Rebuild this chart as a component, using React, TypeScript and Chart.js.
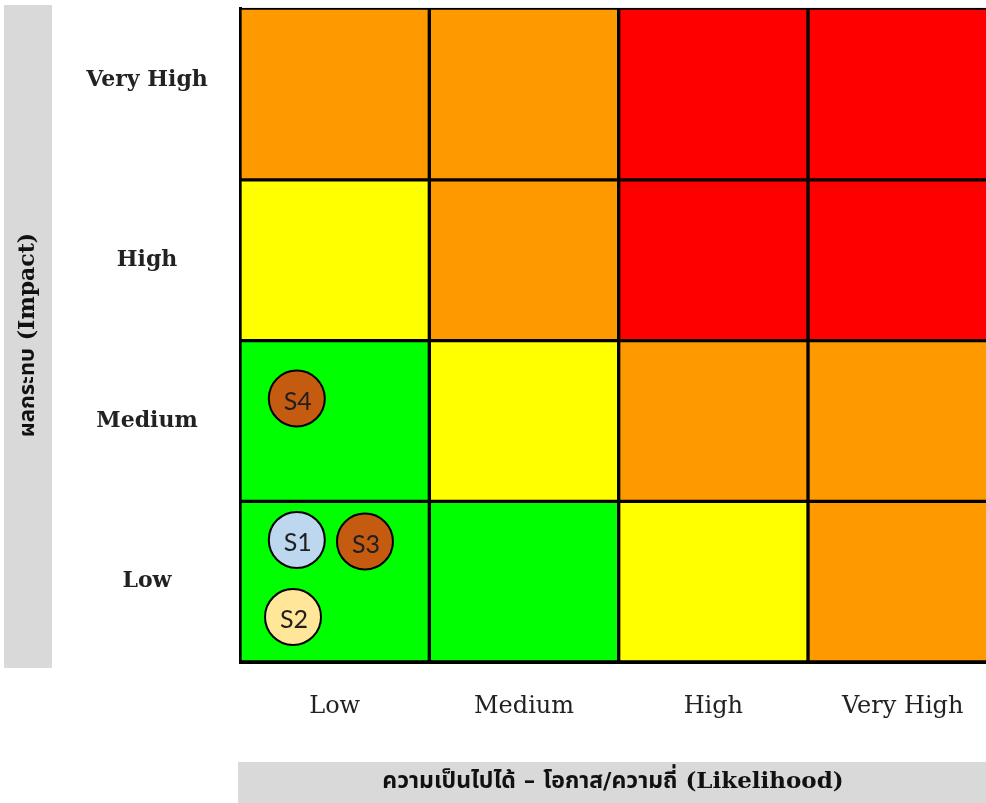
import React, { useEffect, useRef } from "react";
import { Chart, registerables } from "chart.js";

Chart.register(...registerables);

// ---- data ----
const likelihoodLabels = ["Low", "Medium", "High", "Very High"];
const likelihoodTickValues = [0.5, 1.5, 2.5, 3.5];
const impactLabels = ["Low", "Medium", "High", "Very High"];
const impactTickValues = [0.5, 1.5, 2.5, 3.62];
// impact band edges (the top band is drawn slightly taller in the source)
const impactEdges = [0, 1, 2, 3, 4.07];
// cell colours per impact row (columns = likelihood Low..Very High)
const rowLowColors = ["#00FF00", "#00FF00", "#FFFF00", "#FF9900"];
const rowMediumColors = ["#00FF00", "#FFFF00", "#FF9900", "#FF9900"];
const rowHighColors = ["#FFFF00", "#FF9900", "#FF0000", "#FF0000"];
const rowVeryHighColors = ["#FF9900", "#FF9900", "#FF0000", "#FF0000"];
const rowColors = [rowLowColors, rowMediumColors, rowHighColors, rowVeryHighColors];

const riskNames = ["S1", "S2", "S3", "S4"];
const riskLikelihood = [0.3, 0.28, 0.66, 0.3];
const riskImpact = [0.76, 0.28, 0.75, 1.64];
const riskColors = ["#BDD7EE", "#FFE699", "#C55A11", "#C55A11"];

const xTitle = "ความเป็นไปได้ – โอกาส/ความถี่ (Likelihood)";
const yTitle = "ผลกระทบ (Impact)";

const THAI_FONT = "'DejaVu Serif', 'Noto Sans Thai', 'Noto Sans Thai UI', Tahoma, 'Noto Sans', sans-serif";
const SERIF_FONT = "'DejaVu Serif', 'Liberation Serif', serif";

const W = 986;
const H = 803;

const grayBands = {
  id: "grayBands",
  beforeDraw(chart: any) {
    const { ctx } = chart;
    ctx.save();
    ctx.fillStyle = "#D9D9D9";
    ctx.fillRect(4, 5, 48, 663);
    ctx.fillRect(238, 762, 748, 41);
    ctx.restore();
  },
};

const bubbleLabels = {
  id: "bubbleLabels",
  afterDatasetsDraw(chart: any) {
    const { ctx } = chart;
    const meta = chart.getDatasetMeta(0);
    ctx.save();
    ctx.font = "25px Lato, 'Open Sans', sans-serif";
    ctx.fillStyle = "#1F1F1F";
    ctx.textAlign = "center";
    ctx.textBaseline = "middle";
    meta.data.forEach((el: any, i: number) => {
      ctx.fillText(riskNames[i], el.x + 1, el.y + 3);
    });
    ctx.restore();
  },
};

const zeroPadding = (scale: any) => {
  scale.paddingTop = 0;
  scale.paddingBottom = 0;
  scale.paddingLeft = 0;
  scale.paddingRight = 0;
};

export default function App() {
  const ref = useRef<HTMLCanvasElement | null>(null);

  useEffect(() => {
    if (!ref.current) return;
    const yFont = { family: SERIF_FONT, size: 22, weight: "bold" as const };
    const mc = document.createElement("canvas").getContext("2d")!;
    mc.font = `bold 22px ${SERIF_FONT}`;
    const widest = Math.max(...impactLabels.map((t) => mc.measureText(t).width));
    const yPad = 240 - 147 - widest / 2;

    const cellDatasets = rowColors.map((colors, r) => ({
      type: "bar" as const,
      label: impactLabels[r],
      data: likelihoodLabels.map((_, c) => ({ x: c + 0.5, y: [impactEdges[r], impactEdges[r + 1]] })),
      backgroundColor: colors,
      borderColor: "#000000",
      borderWidth: 2,
      borderSkipped: false,
      grouped: false,
      barPercentage: 1,
      categoryPercentage: 1,
      order: r + 1,
      clip: false as any,
    }));

    const tickText = (labels: string[], values: number[]) => (v: any) => {
      const idx = values.findIndex((t) => Math.abs(t - Number(v)) < 1e-6);
      return idx >= 0 ? labels[idx] : "";
    };

    const chart = new Chart(ref.current, {
      type: "bar",
      data: {
        datasets: [
          {
            type: "bubble" as const,
            label: "Risks",
            data: riskNames.map((_, i) => ({ x: riskLikelihood[i], y: riskImpact[i] })),
            backgroundColor: riskColors,
            borderColor: "#000000",
            borderWidth: 2,
            radius: 28,
            order: 0,
          } as any,
          ...cellDatasets,
        ],
      },
      options: {
        animation: false,
        responsive: false,
        maintainAspectRatio: false,
        layout: { autoPadding: false, padding: { top: 8, left: 0, right: 0, bottom: 0 } },
        plugins: {
          legend: { display: false },
          tooltip: { enabled: false },
        },
        events: [],
        scales: {
          x: {
            type: "linear",
            min: 0,
            max: 3.94,
            offset: false,
            grid: { display: false, drawTicks: false, offset: false },
            border: { display: true, color: "#000000", width: 3 },
            afterBuildTicks: (scale: any) => {
              scale.ticks = likelihoodTickValues.map((value) => ({ value }));
            },
            afterFit: (scale: any) => {
              scale.height = 141;
              zeroPadding(scale);
            },
            ticks: {
              autoSkip: false,
              maxRotation: 0,
              padding: 30,
              color: "#222222",
              font: { family: SERIF_FONT, size: 24 },
              callback: tickText(likelihoodLabels, likelihoodTickValues),
            },
            title: {
              display: true,
              text: xTitle,
              color: "#111111",
              font: { family: THAI_FONT, size: 23, weight: "bold" },
              padding: { top: 0, bottom: 7 },
            },
          },
          y: {
            type: "linear",
            min: impactEdges[0],
            max: impactEdges[impactEdges.length - 1],
            offset: false,
            grid: { display: false, drawTicks: false },
            border: { display: true, color: "#000000", width: 3 },
            afterBuildTicks: (scale: any) => {
              scale.ticks = impactTickValues.map((value) => ({ value }));
            },
            afterFit: (scale: any) => {
              scale.width = 240;
              zeroPadding(scale);
            },
            ticks: {
              autoSkip: false,
              crossAlign: "center",
              padding: yPad,
              color: "#222222",
              font: yFont,
              callback: tickText(impactLabels, impactTickValues),
            },
            title: {
              display: true,
              text: yTitle,
              color: "#111111",
              font: { family: THAI_FONT, size: 22, weight: "bold" },
              padding: { top: 15, bottom: 0 },
            },
          },
        },
      } as any,
      plugins: [grayBands, bubbleLabels],
    });
    return () => chart.destroy();
  }, []);

  return (
    <div style={{ position: "absolute", left: 0, top: 0, width: W, height: H, background: "#FFFFFF" }}>
      <canvas ref={ref} width={W} height={H} style={{ width: W, height: H, display: "block" }} />
    </div>
  );
}
